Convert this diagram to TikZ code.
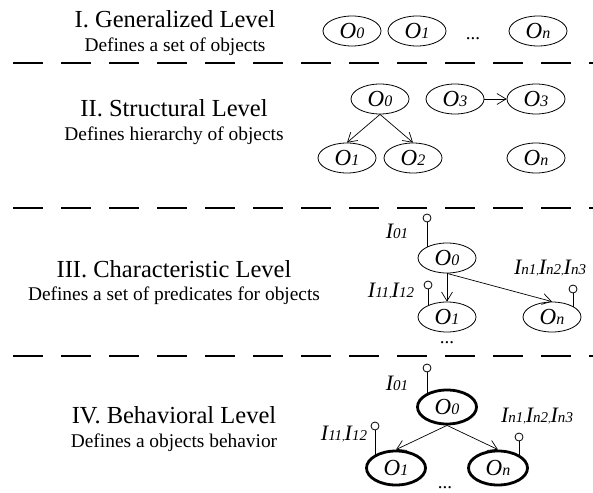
\documentclass[tikz,border=0pt]{standalone}
\usepackage{fontspec}
\setmainfont{Liberation Serif}
\usetikzlibrary{shapes.geometric,arrows.meta,backgrounds}
\newcommand{\olab}[1]{{\fontsize{23}{23}\selectfont\itshape O{\fontsize{16}{16}\selectfont #1}}}
\newcommand{\ilab}[1]{{\fontsize{22}{22}\selectfont\itshape I{\fontsize{15}{15}\selectfont #1}}}
\begin{document}
\begin{tikzpicture}[x=1pt,y=-1pt,
  obj/.style={ellipse, draw, fill=white, line width=0.8pt, minimum width=58pt, minimum height=30pt, inner sep=0pt},
  bobj/.style={obj, line width=2.8pt, minimum width=59pt, minimum height=34pt},
  ttl/.style={font=\fontsize{24.5}{24.5}\selectfont, anchor=base, inner sep=0pt},
  subt/.style={font=\fontsize{19.4}{19.4}\selectfont, anchor=base, inner sep=0pt},
  sepline/.style={line width=2.6pt, dash pattern=on 30pt off 18pt},
  arr/.style={-{Straight Barb[length=9pt,width=11pt]}, line width=0.7pt},
  pinc/.style={circle, draw, fill=white, line width=0.8pt, minimum size=8pt, inner sep=0pt},
  lab/.style={inner sep=0pt, anchor=base},
  dots/.style={font=\fontsize{19}{19}\selectfont, anchor=base, inner sep=0pt, text height=3pt, text depth=0pt},
  pinline/.style={line width=0.8pt}]
\useasboundingbox (0,0) rectangle (593,492);

% separators
\coordinate (l1a) at (13,63);  \coordinate (l1b) at (593,63);
\coordinate (l2a) at (13,208); \coordinate (l2b) at (593,208);
\coordinate (l3a) at (13,356); \coordinate (l3b) at (593,356);
\draw[sepline] (l1a) -- (l1b);
\draw[sepline] (l2a) -- (l2b);
\draw[sepline] (l3a) -- (l3b);

% Level I
\node[ttl] (t1) at (175,28) {I. Generalized Level};
\node[subt] (s1) at (175,52) {Defines a set of objects};
\node[obj] (a0) at (352,31) {\olab{0}};
\node[obj] (a1) at (417,31) {\olab{1}};
\node[dots] (ad) at (473,40) {...};
\node[obj] (an) at (538,31) {\olab{n}};

% Level II
\node[ttl] (t2) at (174,116) {II. Structural Level};
\node[subt] (s2) at (174,140) {Defines hierarchy of objects};
\node[obj] (b0) at (380,99) {\olab{0}};
\node[obj] (b3) at (455,99) {\olab{3}};
\node[obj] (b3p) at (536,99) {\olab{3}};
\node[obj] (b1) at (347,158) {\olab{1}};
\node[obj] (b2) at (413,158) {\olab{2}};
\node[obj] (bn) at (536,158) {\olab{n}};
\draw[arr] (b0.south) -- (b1.north);
\draw[arr] (b0.south) -- (b2.north);
\draw[arr] (b3.east) -- (b3p.west);

% Level III
\node[ttl] (t3) at (174,277) {III. Characteristic Level};
\node[subt] (s3) at (174,300) {Defines a set of predicates for objects};
\node[obj] (c0) at (447,258) {\olab{0}};
\node[obj] (c1) at (447,317) {\olab{1}};
\node[obj] (cn) at (552,317) {\olab{n}};
\node[pinc] (pc0) at (427,218) {};
\node[pinc] (pc1) at (428,285) {};
\node[pinc] (pcn) at (573,289) {};
\node[lab] (lc0) at (397,238) {\ilab{01}};
\node[lab] (lc1) at (391,297) {\ilab{11},\ilab{12}};
\node[lab] (lcn) at (550,274) {\ilab{n1},\ilab{n2},\ilab{n3}};
\node[dots] (cd) at (447,343) {...};
\begin{scope}[on background layer]
  \draw[pinline] (pc0.south) -- (pc0.south |- c0.center);
  \draw[pinline] (pc1.south) -- (pc1.south |- c1.center);
  \draw[pinline] (pcn.south) -- (pcn.south |- cn.center);
\end{scope}
\draw[arr] (c0.south) -- (c1.north);
\draw[arr] (c0.south) -- (cn.north);

% Level IV
\node[ttl] (t4) at (174,423) {IV. Behavioral Level};
\node[subt] (s4) at (174,447) {Defines a objects behavior};
\node[bobj] (d0) at (447,407) {\olab{0}};
\node[bobj] (d1) at (396,468) {\olab{1}};
\node[bobj] (dn) at (498,468) {\olab{n}};
\node[pinc] (pd0) at (427,368) {};
\node[pinc] (pd1) at (375,426) {};
\node[pinc] (pdn) at (519,437) {};
\node[lab] (ld0) at (397,390) {\ilab{01}};
\node[lab] (ld1) at (344,440) {\ilab{11},\ilab{12}};
\node[lab] (ldn) at (537,422) {\ilab{n1},\ilab{n2},\ilab{n3}};
\node[dots] (dd) at (445,488) {...};
\begin{scope}[on background layer]
  \draw[pinline] (pd0.south) -- (pd0.south |- d0.center);
  \draw[pinline] (pd1.south) -- (pd1.south |- d1.center);
  \draw[pinline] (pdn.south) -- (pdn.south |- dn.center);
\end{scope}
\draw[arr] (d0.south) -- (d1.north);
\draw[arr] (d0.south) -- (dn.north);
\end{tikzpicture}
\end{document}
